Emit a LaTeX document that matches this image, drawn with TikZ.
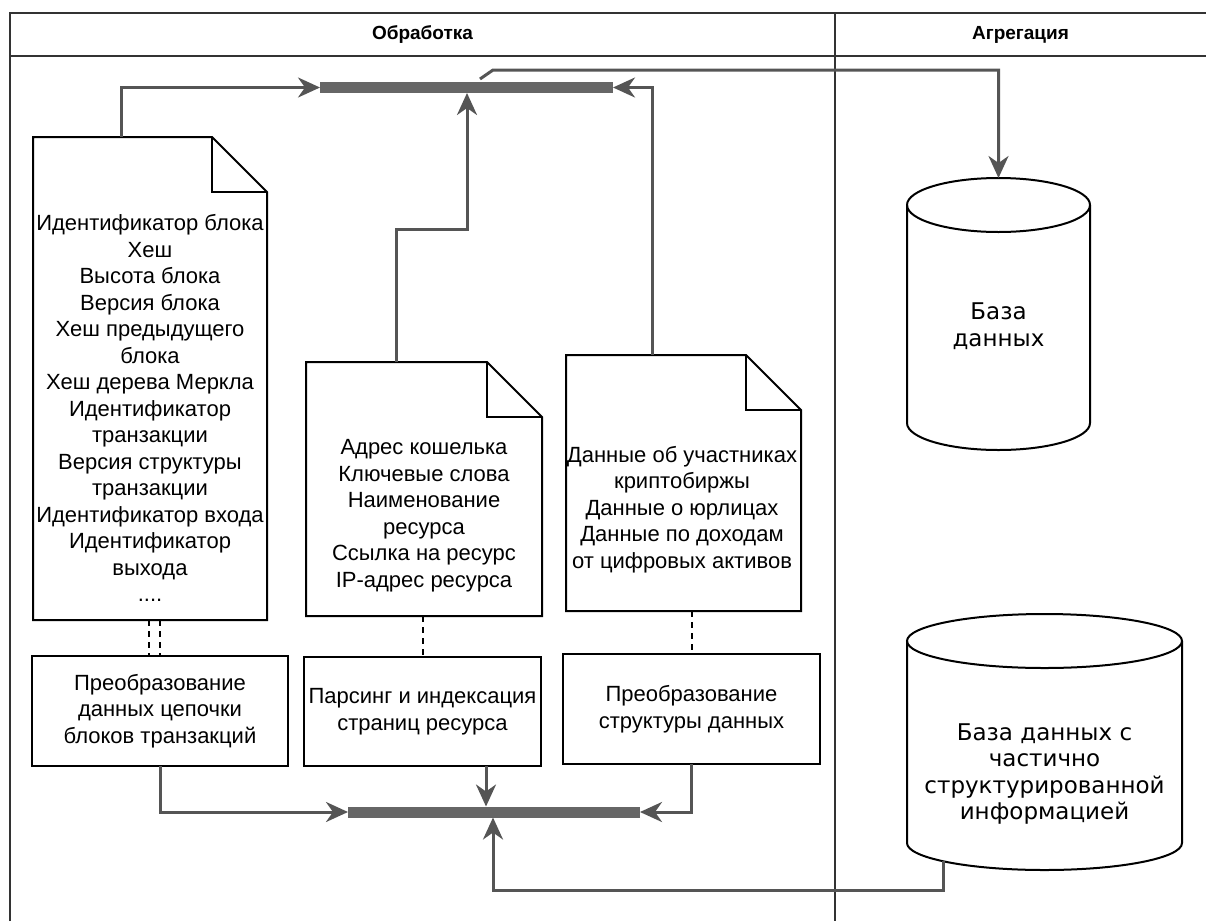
\documentclass[tikz,border=0pt]{standalone}
\usepackage{fontspec}
\setmainfont{Liberation Sans}
\newfontfamily\cylfont{DejaVu Sans}
\usetikzlibrary{arrows.meta,calc}

\definecolor{connc}{HTML}{555555}
\definecolor{barc}{HTML}{666666}
\definecolor{framec}{HTML}{333333}

\newcommand\bodyfont{\fontsize{22}{26.5}\selectfont}
\newcommand\titlefont{\fontsize{19}{23}\selectfont\bfseries}
\newcommand\dbfont{\cylfont\fontsize{23}{26.5}\selectfont}

% folded-corner document outline around a named node
\newcommand\foldoutline[1]{%
  \draw[docline] (#1.north west) -- ([xshift=-55pt]#1.north east)
    -- ([yshift=-55pt]#1.north east) -- (#1.south east) -- (#1.south west) -- cycle;
  \draw[docline] ([xshift=-55pt]#1.north east) |- ([yshift=-55pt]#1.north east);}

% upright cylinder outline around a named node (#2 = half width)
\newcommand\cylinderoutline[2]{%
  \draw[docline] ([yshift=-27pt]#1.north west) -- ([yshift=27pt]#1.south west)
    arc[start angle=180, end angle=360, x radius=#2, y radius=27pt]
    -- ([yshift=-27pt]#1.north east);
  \draw[docline] ([yshift=-27pt]#1.north) ellipse [x radius=#2, y radius=27pt];}

\begin{document}
\begin{tikzpicture}[x=1pt,y=-1pt,
  every node/.style={inner sep=0pt, outer sep=0pt},
  frameline/.style={draw=framec, line width=2pt},
  docline/.style={draw=black, line width=2pt},
  holder/.style={rectangle, draw=none},
  txt/.style={align=center, font=\bodyfont},
  procbox/.style={rectangle, draw=black, line width=2pt, align=center, font=\bodyfont},
  bar/.style={rectangle, fill=barc, draw=none, minimum height=11pt},
  conn/.style={draw=connc, line width=3pt, -{Stealth[length=22pt,width=20pt,inset=7pt]}},
  dashline/.style={draw=black, line width=2pt, dash pattern=on 6pt off 5pt}]

\useasboundingbox (0,0) rectangle (1206,921);
\fill[white] (0,0) rectangle (1206,921);

% swimlane frame
\draw[frameline] (10,921) -- (10,13) -- (1210,13);
\draw[frameline] (10,56) -- (1210,56);
\draw[frameline] (835,13) -- (835,921);
\node[font=\titlefont] (hproc) at (422.5,34.5) {Обработка};
\node[font=\titlefont] (hagg) at (1020.5,34.5) {Агрегация};

% source documents
\node[holder, minimum width=234pt, minimum height=483pt] (d1) at (150,378.5) {};
\foldoutline{d1}
\node[txt] (d1t) at (150,408) {Идентификатор блока\\Хеш\\Высота блока\\Версия блока\\Хеш предыдущего\\блока\\Хеш дерева Меркла\\Идентификатор\\транзакции\\Версия структуры\\транзакции\\Идентификатор входа\\Идентификатор\\выхода\\....};

\node[holder, minimum width=236pt, minimum height=254pt] (d2) at (424,489) {};
\foldoutline{d2}
\node[txt] (d2t) at (424,515.5) {Адрес кошелька\\Ключевые слова\\Наименование\\ресурса\\Ссылка на ресурс\\IP-адрес ресурса};

\node[holder, minimum width=235pt, minimum height=256pt] (d3) at (683.5,483) {};
\foldoutline{d3}
\node[txt] (d3t) at (682,509.5) {Данные об участниках\\криптобиржы\\Данные о юрлицах\\Данные по доходам\\от цифровых активов};

% processing steps
\node[procbox, minimum width=256pt, minimum height=110pt] (box1) at (160,711) {Преобразование\\данных цепочки\\блоков транзакций};
\node[procbox, minimum width=237pt, minimum height=109pt] (box2) at (422.5,711.5) {Парсинг и индексация\\страниц ресурса};
\node[procbox, minimum width=257pt, minimum height=110pt] (box3) at (691.5,709) {Преобразование\\структуры данных};

\draw[dashline] ($(box1.north |- d1.south)+(-11,0)$) -- ($(box1.north)+(-11,0)$);
\draw[dashline] (box1.north |- d1.south) -- (box1.north);
\draw[dashline] (box2.north |- d2.south) -- (box2.north);
\draw[dashline] (box3.north |- d3.south) -- (box3.north);

% join bars
\node[bar, minimum width=293pt] (topbar) at (466.5,87.5) {};
\node[bar, minimum width=292pt] (botbar) at (494,812) {};

% databases
\node[holder, minimum width=183pt, minimum height=272pt] (cyl1) at (998.5,314) {};
\cylinderoutline{cyl1}{91.5pt}
\node[align=center, font=\dbfont] (cyl1t) at (998.5,326) {База\\данных};

\node[holder, minimum width=275pt, minimum height=256pt] (cyl2) at (1044.5,742) {};
\cylinderoutline{cyl2}{137.5pt}
\node[align=center, font=\dbfont] (cyl2t) at (1044.5,774) {База данных с\\частично\\структурированной\\информацией};

% flows into the upper bar
\coordinate (d1out) at ([xshift=88pt]d1.north west);
\draw[conn] (d1out) |- (topbar.west);
\coordinate (d2out) at ([xshift=90pt]d2.north west);
\coordinate (d2bend) at (467,229);
\draw[conn] (d2out) |- (d2bend) -- (d2bend |- topbar.south);
\coordinate (d3out) at ([xshift=86pt]d3.north west);
\draw[conn] (d3out) |- (topbar.east);

% upper bar to the database
\coordinate (tout) at ([xshift=13.5pt,yshift=3pt]topbar.north);
\coordinate (tbend) at (493,70);
\draw[conn] (tout) -- (tbend) -| (cyl1.north);

% flows into the lower bar
\draw[conn] (box1.south) |- (botbar.west);
\coordinate (b2out) at ([xshift=63.5pt]box2.south);
\draw[conn] (b2out) -- (b2out |- botbar.north);
\draw[conn] (box3.south) |- (botbar.east);
\coordinate (c2out) at (943,861);
\coordinate (c2bend) at (493,890);
\draw[conn] (c2out) |- (c2bend) -- (c2bend |- botbar.south);
\end{tikzpicture}
\end{document}
